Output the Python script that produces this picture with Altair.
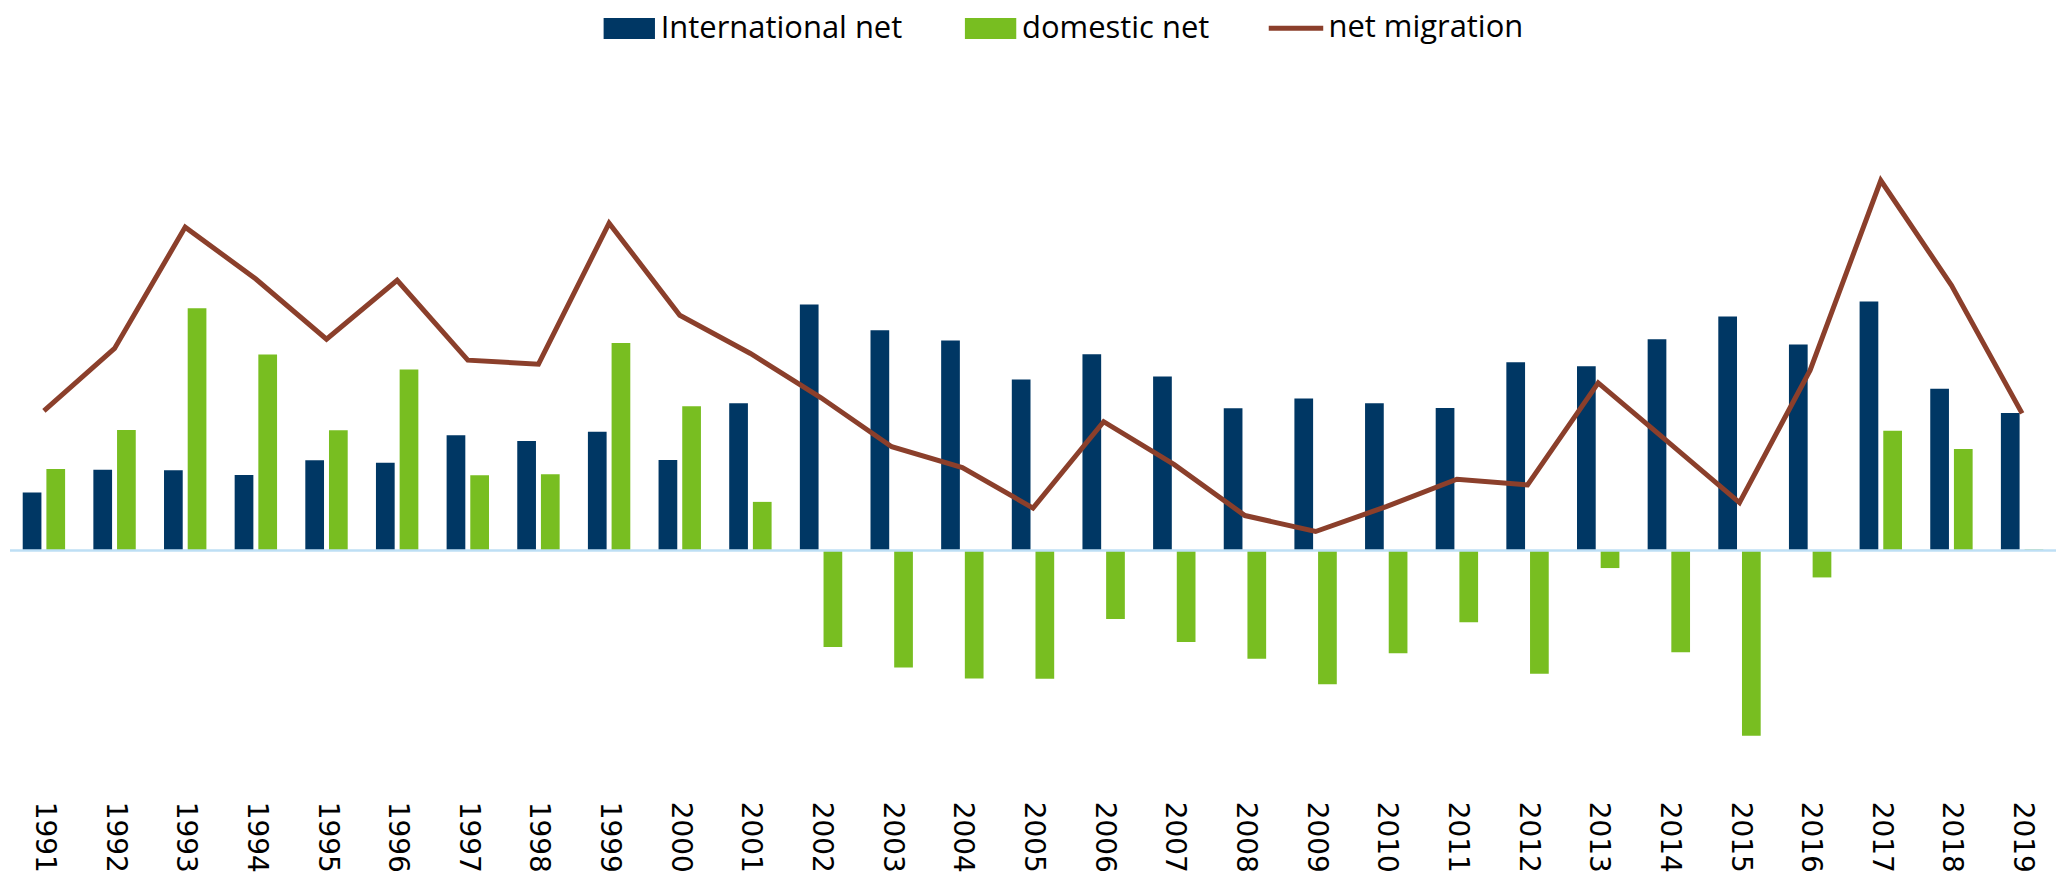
import altair as alt
import pandas as pd

years = [str(y) for y in range(1991, 2020)]
international_net = [58, 81, 80.4, 75.7, 90.4, 88, 115.4, 109.7, 119, 90.7,
                     147.4, 246.4, 220.7, 210.4, 171.4, 196.7, 174.4, 142.4, 152.4, 147.4,
                     142.7, 188.7, 184.7, 211.7, 234.4, 206.4, 249.4, 162, 137.7]
domestic_net = [81.7, 120.7, 242.7, 196.4, 120.4, 181.4, 75.4, 76.4, 208, 144.4,
                48.7, -96.6, -117.3, -128.3, -128.6, -68.6, -91.6, -108.6, -134, -103,
                -72, -123.6, -17.6, -102, -185.6, -27, 120, 101.7, 1]
net_migration = [140, 202.4, 324, 272, 211.7, 270.7, 190.7, 186.7, 328, 235.7,
                 197.4, 153, 104, 83, 42.5, 129, 86, 35, 19, 44,
                 71.4, 65.7, 168, 108, 48, 180.7, 370.7, 265.7, 137.4]

bar_series = ["International net", "domestic net"]
bars_df = pd.DataFrame(
    [{"year": y, "series": bar_series[0], "value": v} for y, v in zip(years, international_net)]
    + [{"year": y, "series": bar_series[1], "value": v} for y, v in zip(years, domestic_net)]
)
line_df = pd.DataFrame({"year": years, "value": net_migration, "series": "net migration"})

NAVY = "#003764"
GREEN = "#78BE21"
BROWN = "#8B3F2B"
ZERO = "#BEDFF5"

x_enc = alt.X("year:N", sort=years, title=None,
              scale=alt.Scale(paddingInner=0.4, paddingOuter=0.18),
              axis=alt.Axis(labelAngle=90, labelFont="DejaVu Sans", labelFontSize=28,
                            labelColor="black", domain=False, ticks=False, grid=False,
                            labelPadding=4))
y_scale = alt.Scale(domain=[-247.3, 542.7], nice=False, zero=False)

bars = alt.Chart(bars_df).mark_bar().encode(
    x=x_enc,
    xOffset=alt.XOffset("series:N", sort=bar_series,
                        scale=alt.Scale(paddingInner=0.21, paddingOuter=0)),
    y=alt.Y("value:Q", scale=y_scale, axis=None),
    color=alt.Color("series:N",
                    scale=alt.Scale(domain=bar_series, range=[NAVY, GREEN]),
                    legend=alt.Legend(title=None, orient="none", legendX=605, legendY=4,
                                      direction="horizontal", padding=0,
                                      symbolType="M-2.45,-1H2.45V1H-2.45Z", symbolSize=441,
                                      symbolStrokeWidth=0, labelFont="Open Sans",
                                      labelFontSize=31, labelColor="black", labelOffset=16,
                                      labelLimit=500, columnPadding=61)),
)

zero_rule = alt.Chart(pd.DataFrame({"v": [0]})).mark_rule(color=ZERO, strokeWidth=2.5).encode(
    y=alt.Y("v:Q", scale=y_scale, axis=None)
)

line = alt.Chart(line_df).mark_line(strokeWidth=5).encode(
    x=alt.X("year:N", sort=years),
    y=alt.Y("value:Q", scale=y_scale, axis=None),
    stroke=alt.Stroke("series:N",
                      scale=alt.Scale(domain=["net migration"], range=[BROWN]),
                      legend=alt.Legend(title=None, orient="none", legendX=1273, legendY=4,
                                        padding=0, symbolType="M-2.6,0H2.6", symbolSize=441,
                                        symbolStrokeWidth=5, labelFont="Open Sans",
                                        labelFontSize=31, labelColor="black", labelOffset=17,
                                        labelLimit=500)),
)

chart = alt.layer(bars, zero_rule, line).properties(
    width=2050, height=790, padding=0
).configure_view(stroke=None)

chart.save("out.html", embed_options={"renderer": "svg", "actions": False})
